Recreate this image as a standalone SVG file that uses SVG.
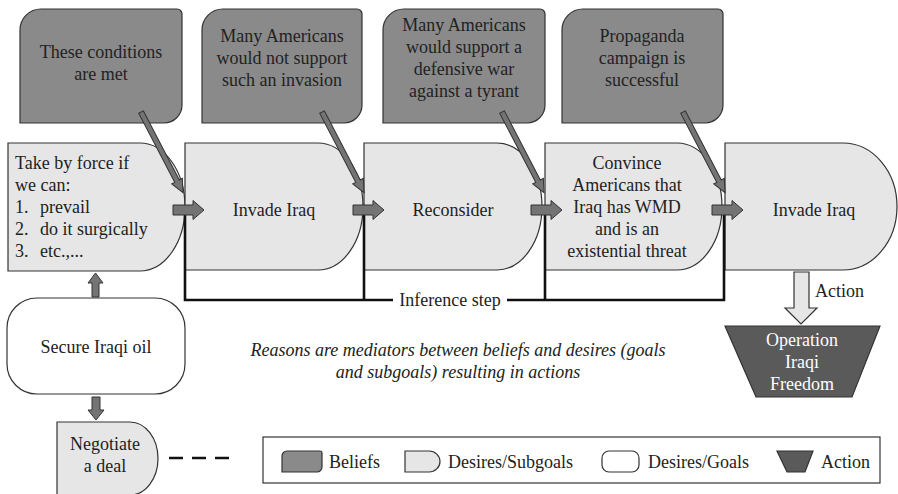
<svg xmlns="http://www.w3.org/2000/svg" width="898" height="494" viewBox="0 0 898 494" font-family="'Liberation Serif', 'Times New Roman', serif">
<defs>
<style>
text{font-family:'Liberation Serif','Times New Roman',serif;font-size:18px;fill:#222}
.c{text-anchor:middle}
.belief{fill:#8a8a8a;stroke:#333;stroke-width:1.2}
.sub{fill:#e6e6e6;stroke:#333;stroke-width:1.2}
.goal{fill:#fff;stroke:#333;stroke-width:1.2}
.act{fill:#5a5a5a;stroke:#333;stroke-width:1.2}
.arr{fill:#747474;stroke:#333;stroke-width:1}
.inf{fill:none;stroke:#111;stroke-width:2.6}
.it{font-style:italic}
.wt{fill:#fff}
</style>
<polygon id="diag" points="0,-2.6 78,-2.6 78,-6 91,0 78,6 78,2.6 0,2.6"/>
<polygon id="harr" points="0,-5 20,-5 20,-9.5 31,0 20,9.5 20,5 0,5"/>
</defs>

<g id="belief1">
<path class="belief" d="M20 123 V30 A21 21 0 0 1 41 9 H177 A5 5 0 0 1 182 14 V105 A18 18 0 0 1 164 123 Z"/>
<text class="c" x="101" y="58">These conditions</text>
<text class="c" x="101" y="80">are met</text>
</g>
<g id="belief2">
<path class="belief" d="M202 123 V30 A21 21 0 0 1 223 9 H357 A5 5 0 0 1 362 14 V105 A18 18 0 0 1 344 123 Z"/>
<text class="c" x="282" y="42">Many Americans</text>
<text class="c" x="282" y="64">would not support</text>
<text class="c" x="282" y="86">such an invasion</text>
</g>
<g id="belief3">
<path class="belief" d="M383 123 V30 A21 21 0 0 1 404 9 H540 A5 5 0 0 1 545 14 V105 A18 18 0 0 1 527 123 Z"/>
<text class="c" x="464" y="31">Many Americans</text>
<text class="c" x="464" y="53">would support a</text>
<text class="c" x="464" y="75">defensive war</text>
<text class="c" x="464" y="97">against a tyrant</text>
</g>
<g id="belief4">
<path class="belief" d="M562 123 V30 A21 21 0 0 1 583 9 H718 A5 5 0 0 1 723 14 V105 A18 18 0 0 1 705 123 Z"/>
<text class="c" x="642" y="42">Propaganda</text>
<text class="c" x="642" y="64">campaign is</text>
<text class="c" x="642" y="86">successful</text>
</g>

<g id="sub1">
<path class="sub" d="M8 143 H140 A45 64 0 0 1 140 271 H8 Z"/>
<text x="15" y="169">Take by force if</text>
<text x="15" y="191">we can:</text>
<text x="15" y="213">1.</text><text x="40" y="213">prevail</text>
<text x="15" y="235">2.</text><text x="40" y="235">do it surgically</text>
<text x="15" y="257">3.</text><text x="40" y="257">etc.,...</text>
</g>
<g id="sub2">
<path class="sub" d="M185 143 H318 A45 63.5 0 0 1 318 270 H185 Z"/>
<text class="c" x="274" y="216">Invade Iraq</text>
</g>
<g id="sub3">
<path class="sub" d="M364 143 H497 A45 63.5 0 0 1 497 270 H364 Z"/>
<text class="c" x="453" y="216">Reconsider</text>
</g>
<g id="sub4">
<path class="sub" d="M545 143 H677 A45 63.5 0 0 1 677 270 H545 Z"/>
<text class="c" x="627" y="169">Convince</text>
<text class="c" x="627" y="191">Americans that</text>
<text class="c" x="627" y="213">Iraq has WMD</text>
<text class="c" x="627" y="235">and is an</text>
<text class="c" x="627" y="257">existential threat</text>
</g>
<g id="sub5">
<path class="sub" d="M725 143 H843 A54 63.5 0 0 1 843 270 H725 Z"/>
<text class="c" x="814" y="216">Invade Iraq</text>
</g>

<g id="goal">
<rect class="goal" x="7" y="298" width="178" height="96" rx="30" ry="30"/>
<text class="c" x="96" y="353">Secure Iraqi oil</text>
</g>

<g id="negotiate">
<path class="sub" d="M57 422 H130 A28 36.5 0 0 1 130 495 H57 Z"/>
<text class="c" x="105" y="450">Negotiate</text>
<text class="c" x="105" y="472">a deal</text>
</g>

<g id="action">
<polygon class="act" points="725,326 880,326 852,397 756,397"/>
<text class="c wt" x="802" y="346">Operation</text>
<text class="c wt" x="802" y="368">Iraqi</text>
<text class="c wt" x="802" y="390">Freedom</text>
</g>

<g id="connectors">
<path class="inf" d="M185 210 V300 H393 M507 300 H724 V210 M364 210 V300 M545 210 V300"/>
<text class="c" x="450" y="306">Inference step</text>
<use href="#harr" class="arr" x="173" y="210"/>
<use href="#harr" class="arr" x="353" y="210"/>
<use href="#harr" class="arr" x="531" y="210"/>
<use href="#harr" class="arr" x="712" y="210"/>
<use href="#diag" class="arr" transform="translate(141 112) rotate(62.5)"/>
<use href="#diag" class="arr" transform="translate(322 112) rotate(62.5)"/>
<use href="#diag" class="arr" transform="translate(502 112) rotate(62.5)"/>
<use href="#diag" class="arr" transform="translate(683 112) rotate(62.5)"/>
<polygon class="arr" points="92,297 99,297 99,283 103,283 95.5,273 88,283 92,283"/>
<polygon class="arr" points="92,397 100,397 100,410 104,410 96,420 88,410 92,410"/>
<polygon class="sub" points="794,272 809,272 809,308 817,308 801,324 785,308 794,308"/>
<text x="815" y="297">Action</text>
<line x1="169" y1="458" x2="229" y2="458" stroke="#111" stroke-width="2.6" stroke-dasharray="14 9"/>
</g>

<g id="caption">
<text class="c it" x="458" y="356">Reasons are mediators between beliefs and desires (goals</text>
<text class="c it" x="458" y="378">and subgoals) resulting in actions</text>
</g>

<g id="legend">
<rect x="263" y="437" width="617" height="46" fill="#fff" stroke="#333" stroke-width="1.2"/>
<path class="belief" d="M282 472 V456 A5 5 0 0 1 287 451 H320 A2 2 0 0 1 322 453 V467 A5 5 0 0 1 317 472 Z"/>
<text x="329" y="468">Beliefs</text>
<path class="sub" d="M405 451 H429 A11 10.5 0 0 1 429 472 H405 Z"/>
<text x="448" y="468">Desires/Subgoals</text>
<rect class="goal" x="602" y="451" width="37" height="21" rx="7"/>
<text x="648" y="468">Desires/Goals</text>
<polygon class="act" points="777,451 813,451 805,472 787,472"/>
<text x="821" y="468">Action</text>
</g>
</svg>
